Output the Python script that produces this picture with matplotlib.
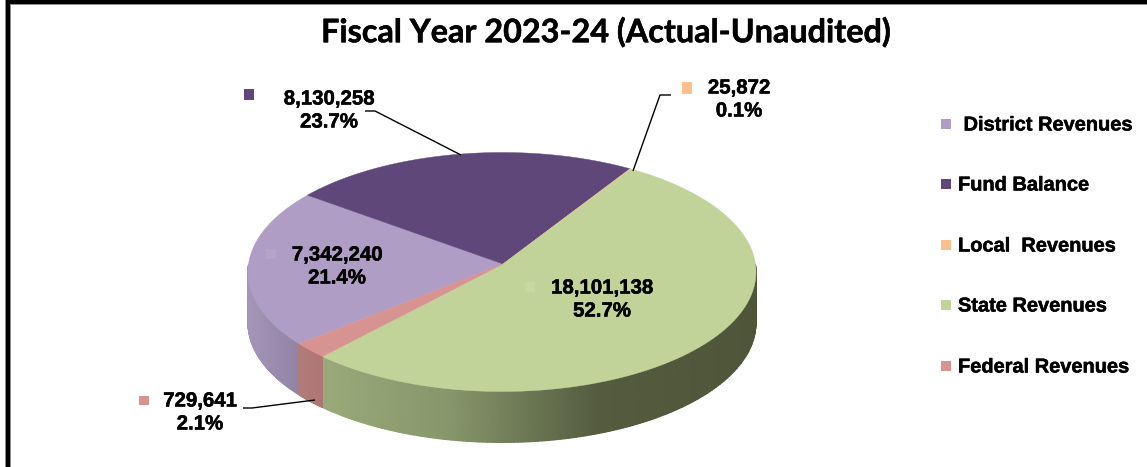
import numpy as np
import matplotlib
matplotlib.use("Agg")
import matplotlib.pyplot as plt
import matplotlib.patheffects as pe
from matplotlib.colors import to_rgb
from matplotlib.patches import Rectangle

W, H = 1147, 467

# Revenue sources for the fiscal year, in legend order
categories = ["District Revenues", "Fund Balance", "Local  Revenues", "State Revenues", "Federal Revenues"]
legend_labels = [" District Revenues", "Fund Balance", "Local  Revenues", "State Revenues", "Federal Revenues"]
values = [7342240, 8130258, 25872, 18101138, 729641]
percents = ["21.4%", "23.7%", "0.1%", "52.7%", "2.1%"]
top_colors = ["#b09dc6", "#5f4879", "#fbbf8d", "#c2d399", "#d69391"]
key_colors = ["#b5a3ca", "#5f4879", "#fbbf8d", "#c8d8a2", "#d69391"]

# Wall shading stops: (pixel x, colour) for each slice that shows a front wall
wall_stops = {
    "District Revenues": [(247, "#a597b8"), (300, "#9182a6")],
    "Federal Revenues": [(300, "#b27c7a"), (325, "#ad7674")],
    "State Revenues": [(323, "#9aaa7a"), (450, "#87966b"), (600, "#545b3f"), (755, "#4f5539")],
}

# Ellipse placement on the canvas, in pixels
CX, CY = 502, 272
RX, RY = 254, 119.5
DEPTH = 51
START = 220.0
APEX_X, APEX_Y = 0.004, 0.067  # perspective puts the hub above the ellipse centre
MOBIUS = 0.0335

fig = plt.figure(figsize=(W / 100, H / 100), dpi=100, facecolor="white")

# Pie axes: one data unit equals the ellipse radii, so the disc renders foreshortened
ax = fig.add_axes([0, 0, 1, 1], zorder=1)
ax.set_xlim(-CX / RX, (W - CX) / RX)
ax.set_ylim(-(H - CY) / RY, CY / RY)
ax.set_axis_off()

fractions = np.array(values) / sum(values)
edges = START - 360 * np.concatenate([[0], np.cumsum(fractions)])


def rim(angles_deg):
    """Rim points of the tilted disc, crowded toward the far side by perspective."""
    w = np.exp(1j * np.radians(angles_deg))
    z = (w + 1j * MOBIUS) / (1 - 1j * MOBIUS * w)
    return z.real, z.imag


# Top faces
for i in range(len(values)):
    phi = np.linspace(edges[i], edges[i + 1], max(3, int(abs(edges[i] - edges[i + 1]) * 2)))
    rx, ry = rim(phi)
    ax.fill(np.r_[APEX_X, rx], np.r_[APEX_Y, ry], facecolor=top_colors[i],
            edgecolor=top_colors[i], lw=0.3, zorder=5)

# Front wall: smooth horizontal shading over the visible lower part of the rim
depth_u = DEPTH / RY
for i, name in enumerate(categories):
    if name not in wall_stops:
        continue
    stops = wall_stops[name]
    stop_x = [s[0] for s in stops]
    stop_rgb = np.array([to_rgb(s[1]) for s in stops])
    hi, lo = edges[i], edges[i + 1]
    for k in (0, 1):
        a, b = max(lo, 360 * k - 180), min(hi, 360 * k)
        if b <= a:
            continue
        xr, yr = rim(np.linspace(a, b, 160))
        xm = np.vstack([xr, xr])
        ym = np.vstack([yr - depth_u, yr])
        px = CX + RX * xm
        rgb = np.dstack([np.interp(px, stop_x, stop_rgb[:, c]) for c in range(3)])
        ax.pcolormesh(xm, ym, rgb, shading="gouraud", zorder=3)

ax.set_xlim(-CX / RX, (W - CX) / RX)
ax.set_ylim(-(H - CY) / RY, CY / RY)

# Overlay axes in pixel coordinates for text, markers, leaders and border
ov = fig.add_axes([0, 0, 1, 1], zorder=2)
ov.set_xlim(0, W)
ov.set_ylim(H, 0)
ov.set_axis_off()
ov.patch.set_alpha(0)

heavy = [pe.withStroke(linewidth=0.35, foreground="black")]


def txt(x, y, s, size=14.7, ha="center"):
    ov.text(x, y, s, fontsize=size, fontweight="bold", family="Liberation Sans",
            ha=ha, va="center", color="black", path_effects=heavy)


ov.text(606, 32, "Fiscal Year 2023-24 (Actual-Unaudited)", fontsize=23.3, fontweight="bold",
        family="Lato", ha="center", va="center", color="black", path_effects=heavy)

# Value labels with their small colour keys
label_pos = [(337, 267), (329, 111), (739, 100), (602, 300), (200, 413)]
key_pos = [(271, 254), (249, 94.5), (686.5, 87.5), (530, 287), (144, 400.5)]
key_size = [(10, 10), (10, 11), (10, 12), (10, 10), (10, 9)]
for i in range(5):
    lx, ly = label_pos[i]
    txt(lx, ly - 12, f"{values[i]:,}")
    txt(lx, ly + 11, percents[i])
    kx, ky = key_pos[i]
    kw, kh = key_size[i]
    ov.add_patch(Rectangle((kx - kw / 2, ky - kh / 2), kw, kh, color=key_colors[i], lw=0))

# Leader lines
for xs, ys in [([365, 375, 461], [111, 111, 155]),
               ([671, 660, 633], [95, 95, 171]),
               ([243, 252, 315], [408, 408, 400])]:
    ov.plot(xs, ys, color="black", lw=1, solid_capstyle="butt")

# Legend column
legend_y = [124, 184, 245, 305, 366]
for i in range(5):
    ov.add_patch(Rectangle((941, legend_y[i] - 5), 10, 10, color=top_colors[i], lw=0))
    txt(958, legend_y[i] + 1, legend_labels[i], size=14.4, ha="left")

# Heavy border along the top and left, with a soft grey edge
ov.add_patch(Rectangle((5, 0), W - 5, 5, color="#8c8c8c", lw=0))
ov.add_patch(Rectangle((5, 0), 6, H, color="#8c8c8c", lw=0))
ov.add_patch(Rectangle((6, 0), W - 6, 4, color="black", lw=0))
ov.add_patch(Rectangle((6, 0), 4, H, color="black", lw=0))

fig.savefig("out.png", dpi=100, facecolor="white")
